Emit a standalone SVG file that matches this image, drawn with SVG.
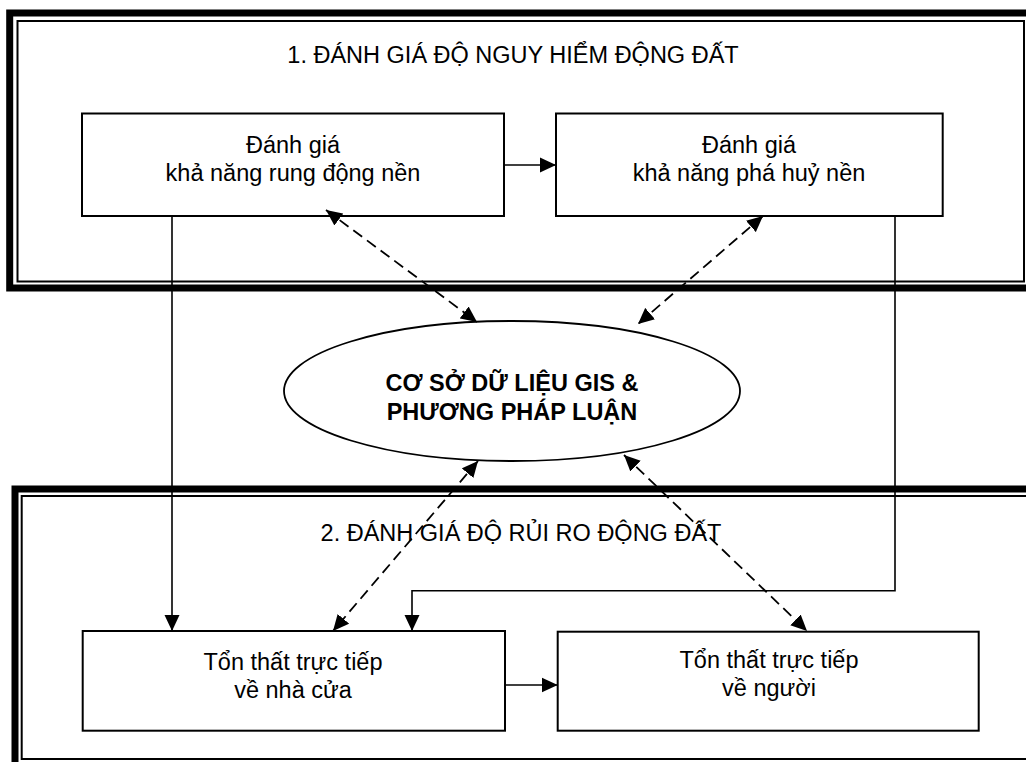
<svg xmlns="http://www.w3.org/2000/svg" width="1026" height="762" viewBox="0 0 1026 762">
<defs>
<style>
.frame-thick{fill:none;stroke:#000;stroke-width:7}
.frame-thin{fill:none;stroke:#000;stroke-width:2}
.box{fill:#fff;stroke:#000;stroke-width:2}
.solid{fill:none;stroke:#000;stroke-width:1.6}
.dash{fill:none;stroke:#000;stroke-width:1.8;stroke-dasharray:11 6}
text{font-family:"Liberation Sans",Arial,sans-serif;font-size:23.5px;fill:#000;text-anchor:middle}
.bold{font-weight:bold}
</style>
<marker id="arr" markerUnits="userSpaceOnUse" markerWidth="17" markerHeight="16" refX="16" refY="8" orient="auto">
<path d="M0,0.5 L16,8 L0,15.5 z" fill="#000"/>
</marker>
<marker id="arrS" markerUnits="userSpaceOnUse" markerWidth="17" markerHeight="16" refX="16" refY="8" orient="auto-start-reverse">
<path d="M0,0.5 L16,8 L0,15.5 z" fill="#000"/>
</marker>
</defs>
<rect width="1026" height="762" fill="#fff"/>

<g id="frame1">
<rect class="frame-thick" x="9.7" y="13" width="1030" height="275"/>
<rect class="frame-thin" x="17.5" y="21" width="1006.5" height="260.5"/>
<text x="513" y="63">1. ĐÁNH GIÁ ĐỘ NGUY HIỂM ĐỘNG ĐẤT</text>
</g>

<g id="frame2">
<rect class="frame-thick" x="15" y="489" width="1030" height="290"/>
<rect class="frame-thin" x="21.7" y="496" width="1020" height="263"/>
<text x="521" y="541">2. ĐÁNH GIÁ ĐỘ RỦI RO ĐỘNG ĐẤT</text>
</g>

<g id="nodeA">
<rect class="box" x="82" y="113.5" width="422" height="102.5"/>
<text x="293" y="153">Đánh giá</text>
<text x="293" y="181">khả năng rung động nền</text>
</g>

<g id="nodeB">
<rect class="box" x="556" y="113.5" width="386.7" height="102.5"/>
<text x="749" y="153">Đánh giá</text>
<text x="749" y="181">khả năng phá huỷ nền</text>
</g>

<g id="nodeDB">
<ellipse cx="512" cy="391" rx="228" ry="70" fill="#fff" stroke="#000" stroke-width="1.8"/>
<text class="bold" x="512" y="391">CƠ SỞ DỮ LIỆU GIS &amp;</text>
<text class="bold" x="512" y="420">PHƯƠNG PHÁP LUẬN</text>
</g>

<g id="nodeC">
<rect class="box" x="82.7" y="631" width="422.3" height="99.7"/>
<text x="293" y="670">Tổn thất trực tiếp</text>
<text x="293" y="698">về nhà cửa</text>
</g>

<g id="nodeD">
<rect class="box" x="557.7" y="631.7" width="421" height="99"/>
<text x="769" y="668">Tổn thất trực tiếp</text>
<text x="769" y="696">về người</text>
</g>

<g id="connectors">
<line class="solid" x1="504" y1="165" x2="556" y2="165" marker-end="url(#arr)"/>
<line class="solid" x1="172" y1="216" x2="172" y2="631" marker-end="url(#arr)"/>
<polyline class="solid" points="895,216 895,590.7 412,590.7 412,631" marker-end="url(#arr)"/>
<line class="solid" x1="505" y1="685" x2="557.7" y2="685" marker-end="url(#arr)"/>
<line class="dash" x1="326" y1="210" x2="477" y2="322" marker-start="url(#arrS)" marker-end="url(#arr)"/>
<line class="dash" x1="763" y1="216" x2="638" y2="324" marker-start="url(#arrS)" marker-end="url(#arr)"/>
<line class="dash" x1="478" y1="461" x2="333" y2="631" marker-start="url(#arrS)" marker-end="url(#arr)"/>
<line class="dash" x1="624" y1="455" x2="807" y2="631" marker-start="url(#arrS)" marker-end="url(#arr)"/>
</g>
</svg>
